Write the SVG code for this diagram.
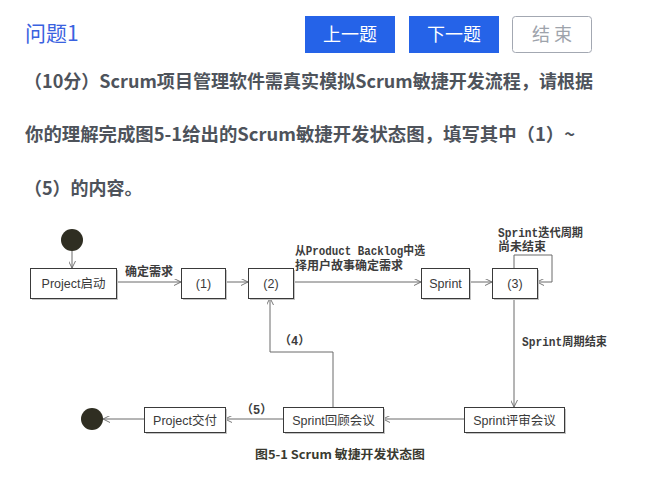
<svg xmlns="http://www.w3.org/2000/svg" width="661" height="502" viewBox="0 0 661 502">
<defs>
<style>
.hdr{font-family:"Noto Sans CJK SC","Liberation Sans",sans-serif;}
.q{font-family:"Noto Sans CJK SC","Liberation Sans",sans-serif;font-weight:bold;font-size:18px;fill:#4e535b;}
.btn{font-family:"Noto Sans CJK SC","Liberation Sans",sans-serif;font-size:18px;fill:#fff;text-anchor:middle;}
.box{fill:#fff;stroke:#3a3a3a;stroke-width:1;}
.sh{fill:#c4c4c4;}
.bt{font-family:"Liberation Sans","Noto Sans CJK SC",sans-serif;font-size:12.5px;fill:#3a3a3a;text-anchor:middle;}
.lbl{font-family:"Liberation Mono","Noto Sans CJK SC",monospace;font-size:12px;font-weight:bold;fill:#3c3c3c;}
.ln{fill:none;stroke:#6a6a6a;stroke-width:1;}
.dot{fill:#2f2e22;}
</style>
<marker id="arr" viewBox="0 0 10 10" refX="10" refY="5" markerWidth="7" markerHeight="7" markerUnits="userSpaceOnUse" orient="auto">
<path d="M0,0 L10,5 L0,10" fill="none" stroke="#6a6a6a" stroke-width="1.3"/>
</marker>
</defs>
<rect width="661" height="502" fill="#fff"/>

<g id="header">
<text x="25" y="41" class="hdr" font-size="21" fill="#3a62e0">问题1</text>
<g id="btn-prev"><rect x="305" y="16" width="90" height="37" fill="#2563e8"/><text x="350" y="41" class="btn">上一题</text></g>
<g id="btn-next"><rect x="409" y="16" width="90" height="37" fill="#2563e8"/><text x="454" y="41" class="btn">下一题</text></g>
<g id="btn-end"><rect x="512.5" y="16.5" width="79" height="36" rx="3" fill="#fff" stroke="#a3a8b2"/><text x="552" y="41" class="btn" style="fill:#9ea3ab">结 束</text></g>
<text x="24" y="88" class="q" textLength="569" lengthAdjust="spacingAndGlyphs">（10分）Scrum项目管理软件需真实模拟Scrum敏捷开发流程，请根据</text>
<text x="25" y="141" class="q" textLength="550" lengthAdjust="spacingAndGlyphs">你的理解完成图5-1给出的Scrum敏捷开发状态图，填写其中（1）~</text>
<text x="24" y="195" class="q">（5）的内容。</text>
</g>

<g id="connectors">
<path class="ln" d="M72,251 L72,268" marker-end="url(#arr)"/>
<path class="ln" d="M116,282 L181,282" marker-end="url(#arr)"/>
<path class="ln" d="M225,282 L248,282" marker-end="url(#arr)"/>
<path class="ln" d="M293,282 L421,282" marker-end="url(#arr)"/>
<path class="ln" d="M469,282 L492,282" marker-end="url(#arr)"/>
<path class="ln" d="M514,268 L514,255 L552,255 L552,282 L537,282" marker-end="url(#arr)"/>
<path class="ln" d="M514,298 L514,407" marker-end="url(#arr)"/>
<path class="ln" d="M464,419 L383,419" marker-end="url(#arr)"/>
<path class="ln" d="M333,407 L333,352 L270,352 L270,298" marker-end="url(#arr)"/>
<path class="ln" d="M283,419 L225,419" marker-end="url(#arr)"/>
<path class="ln" d="M144,419 L103,419" marker-end="url(#arr)"/>
<text x="125" y="276" class="lbl" textLength="48" lengthAdjust="spacingAndGlyphs">确定需求</text>
<text x="295" y="255" class="lbl" textLength="130" lengthAdjust="spacingAndGlyphs">从Product Backlog中选</text>
<text x="295" y="270" class="lbl" textLength="108" lengthAdjust="spacingAndGlyphs">择用户故事确定需求</text>
<text x="498" y="237" class="lbl" textLength="85" lengthAdjust="spacingAndGlyphs">Sprint迭代周期</text>
<text x="498" y="251" class="lbl" textLength="48" lengthAdjust="spacingAndGlyphs">尚未结束</text>
<text x="522" y="346" class="lbl" textLength="85" lengthAdjust="spacingAndGlyphs">Sprint周期结束</text>
<text x="279" y="345" class="lbl">（4）</text>
<text x="241" y="414" class="lbl">（5）</text>
</g>

<g id="start"><circle cx="72" cy="240" r="11" class="dot"/></g>
<g id="end"><circle cx="92" cy="419" r="11" class="dot"/></g>

<g id="project-start"><rect x="32" y="270" width="86" height="30" class="sh"/><rect x="30.5" y="268.5" width="86" height="30" class="box"/><text x="73.5" y="288" class="bt">Project启动</text></g>
<g id="state1"><rect x="183" y="270" width="44" height="30" class="sh"/><rect x="181.5" y="268.5" width="44" height="30" class="box"/><text x="203.5" y="288" class="bt">(1)</text></g>
<g id="state2"><rect x="250" y="270" width="45" height="30" class="sh"/><rect x="248.5" y="268.5" width="45" height="30" class="box"/><text x="271" y="288" class="bt">(2)</text></g>
<g id="sprint"><rect x="423" y="270" width="48" height="30" class="sh"/><rect x="421.5" y="268.5" width="48" height="30" class="box"/><text x="445.5" y="288" class="bt">Sprint</text></g>
<g id="state3"><rect x="494" y="270" width="45" height="30" class="sh"/><rect x="492.5" y="268.5" width="45" height="30" class="box"/><text x="515" y="288" class="bt">(3)</text></g>
<g id="project-deliver"><rect x="146" y="409" width="81" height="25" class="sh"/><rect x="144.5" y="407.5" width="81" height="25" class="box"/><text x="185" y="424.5" class="bt">Project交付</text></g>
<g id="sprint-retro"><rect x="285" y="409" width="100" height="25" class="sh"/><rect x="283.5" y="407.5" width="100" height="25" class="box"/><text x="333.5" y="424.5" class="bt">Sprint回顾会议</text></g>
<g id="sprint-review"><rect x="466" y="409" width="100" height="25" class="sh"/><rect x="464.5" y="407.5" width="100" height="25" class="box"/><text x="514.5" y="424.5" class="bt">Sprint评审会议</text></g>

<text x="255" y="459" font-family="Noto Sans CJK SC, Liberation Sans, sans-serif" font-weight="bold" font-size="12" fill="#3a3a30" textLength="170" lengthAdjust="spacingAndGlyphs">图5-1 Scrum 敏捷开发状态图</text>
</svg>
